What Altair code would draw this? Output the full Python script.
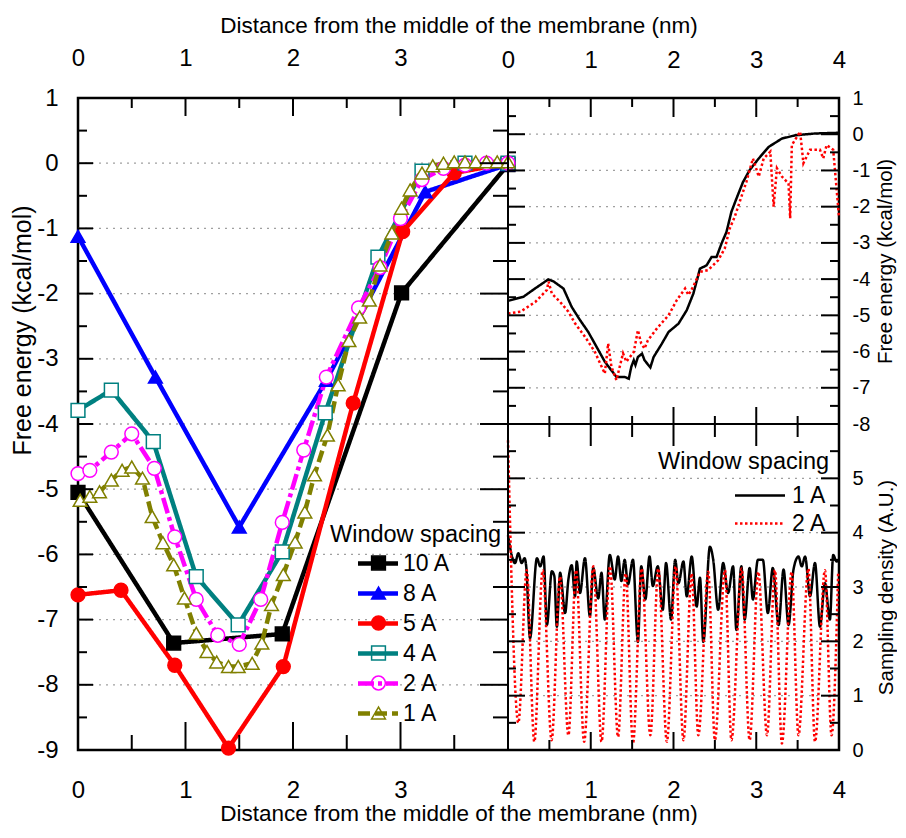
import altair as alt
import pandas as pd

FONT = "Liberation Sans"

# ---------------- data: left panel (free energy vs window spacing) ----------------
SERIES = ["10 A", "8 A", "5 A", "4 A", "2 A", "1 A"]
COLORS = ["#000000", "#0000ff", "#ff0000", "#008080", "#ff00ff", "#808000"]
FILLS = ["#000000", "#0000ff", "#ff0000", "#ffffff", "#ffffff", "#ffffff"]
SHAPES = ["square", "triangle-up", "circle", "square", "circle", "triangle-up"]
DASHES = [[1, 0], [1, 0], [1, 0], [1, 0], [16, 4, 4, 4], [12, 5]]

x_10A = [0.0, 0.89, 1.90, 3.01, 4.0]
y_10A = [-5.05, -7.36, -7.22, -1.99, -0.02]

x_8A = [0.0, 0.72, 1.50, 2.31, 3.23, 4.0]
y_8A = [-1.12, -3.28, -5.58, -3.33, -0.44, -0.02]

x_5A = [0.0, 0.40, 0.90, 1.40, 1.91, 2.56, 3.02, 3.50, 4.0]
y_5A = [-6.62, -6.55, -7.70, -8.97, -7.72, -3.68, -1.05, -0.15, 0.0]

x_4A = [0.0, 0.31, 0.70, 1.10, 1.49, 1.90, 2.30, 2.79, 3.20, 3.60, 4.0]
y_4A = [-3.79, -3.48, -4.27, -6.34, -7.08, -5.96, -3.83, -1.44, -0.12, 0.0, 0.0]

x_2A = [0.0, 0.11, 0.31, 0.50, 0.71, 0.90, 1.10, 1.30, 1.50, 1.70, 1.90, 2.10,
        2.31, 2.61, 2.81, 3.00, 3.20, 3.40, 3.60, 3.80, 4.0]
y_2A = [-4.76, -4.71, -4.43, -4.15, -4.68, -5.73, -6.69, -7.24, -7.38, -6.69, -5.51, -4.40,
        -3.28, -2.22, -1.60, -0.85, -0.25, -0.08, -0.03, 0.0, 0.0]

x_1A = [0.02, 0.11, 0.20, 0.31, 0.41, 0.50, 0.60, 0.69, 0.79, 0.89, 0.99, 1.10, 1.20, 1.29,
        1.40, 1.49, 1.62, 1.71, 1.80, 1.91, 2.02, 2.11, 2.20, 2.32, 2.42, 2.52, 2.62, 2.71,
        2.81, 2.92, 3.01, 3.09, 3.20, 3.30, 3.40, 3.50, 3.60, 3.70, 3.80, 3.90, 4.0]
y_1A = [-5.17, -5.11, -5.04, -4.86, -4.71, -4.66, -4.83, -5.42, -5.82, -6.16, -6.67, -7.21,
        -7.49, -7.65, -7.72, -7.72, -7.67, -7.36, -6.77, -6.31, -5.81, -5.35, -4.78, -4.17,
        -3.40, -2.72, -2.36, -2.10, -1.56, -1.07, -0.69, -0.41, -0.15, -0.04, 0.0, 0.02,
        0.02, 0.02, 0.02, 0.02, 0.02]

LEFT_X = [x_10A, x_8A, x_5A, x_4A, x_2A, x_1A]
LEFT_Y = [y_10A, y_8A, y_5A, y_4A, y_2A, y_1A]

# ---------------- data: right panels (1 A vs 2 A spacing) ----------------
RIGHT_SERIES = ["1 A", "2 A"]
RIGHT_COLORS = ["#000000", "#ff0000"]
RIGHT_DASH = [[1, 0], [2.5, 2.5]]

fe1_x = [0.0, 0.185, 0.326, 0.486, 0.548, 0.67, 0.77, 0.87, 0.97, 1.07, 1.17, 1.31, 1.41,
         1.46, 1.49, 1.52, 1.54, 1.57, 1.62, 1.65, 1.72, 1.76, 1.86, 1.94, 2.06, 2.16, 2.24,
         2.32, 2.40, 2.46, 2.52, 2.58, 2.64, 2.70, 2.76, 2.84, 2.92, 3.03, 3.15, 3.31, 3.47,
         3.71, 4.0]
fe1_y = [-4.6, -4.49, -4.26, -4.01, -4.06, -4.26, -4.77, -5.13, -5.46, -5.87, -6.28, -6.70,
         -6.70, -6.75, -6.42, -6.24, -6.37, -6.15, -6.06, -6.24, -6.44, -6.15, -5.78, -5.46,
         -5.23, -4.86, -4.40, -3.71, -3.62, -3.39, -3.39, -3.02, -2.70, -2.14, -1.78, -1.32,
         -0.99, -0.67, -0.35, -0.12, -0.03, 0.02, 0.04]

fe2_x = [0.0, 0.15, 0.33, 0.47, 0.49, 0.53, 0.63, 0.73, 0.81, 0.93, 1.05, 1.17, 1.21, 1.25,
         1.31, 1.39, 1.43, 1.52, 1.57, 1.61, 1.65, 1.69, 1.80, 1.94, 2.04, 2.14, 2.18, 2.24,
         2.32, 2.42, 2.54, 2.62, 2.68, 2.74, 2.82, 2.88, 2.96, 3.03, 3.09, 3.17, 3.21, 3.25,
         3.31, 3.39, 3.41, 3.43, 3.53, 3.57, 3.65, 3.77, 3.81, 3.85, 3.93, 4.0]
fe2_y = [-4.95, -4.9, -4.63, -4.30, -4.07, -4.40, -4.63, -4.9, -5.22, -5.59, -6.01, -6.61,
         -5.78, -6.42, -6.79, -6.05, -6.28, -6.01, -5.41, -5.78, -5.92, -5.69, -5.36, -5.0,
         -4.58, -4.26, -4.44, -4.2, -3.80, -3.75, -3.48, -3.15, -2.6, -2.28, -1.73, -1.32,
         -0.67, -1.17, -0.67, -0.48, -2.0, -0.94, -1.17, -1.36, -2.32, -0.3, 0.07, -0.8,
         -0.43, -0.43, -0.67, -0.3, -0.43, -2.28]

dn1_x = [0.0, 0.085, 0.125, 0.165, 0.2, 0.22, 0.266, 0.35, 0.39, 0.43,
         0.47, 0.53, 0.56, 0.59, 0.63, 0.69, 0.73, 0.77, 0.81, 0.83,
         0.87, 0.93, 0.99, 1.03, 1.09, 1.13, 1.17, 1.23, 1.29, 1.33,
         1.37, 1.41, 1.45, 1.51, 1.57, 1.61, 1.66, 1.71, 1.75, 1.81,
         1.87, 1.91, 1.97, 2.02, 2.06, 2.12, 2.16, 2.22, 2.28, 2.32,
         2.36, 2.44, 2.48, 2.54, 2.6, 2.66, 2.72, 2.76, 2.82, 2.86,
         2.92, 2.96, 3.02, 3.08, 3.14, 3.2, 3.27, 3.33, 3.39, 3.45,
         3.51, 3.55, 3.59, 3.65, 3.71, 3.77, 3.83, 3.89, 3.93, 3.97, 4.0]
dn1_y = [3.95, 3.44, 3.62, 3.44, 3.53, 3.38, 2.06, 3.53, 3.38, 3.56,
         2.30, 3.29, 3.20, 2.27, 3.26, 2.52, 3.14, 3.40, 2.83, 3.47,
         2.89, 3.53, 2.46, 3.35, 2.79, 3.26, 2.40, 3.59, 3.14, 3.56,
         3.11, 3.50, 3.05, 3.50, 1.99, 3.38, 2.77, 3.56, 3.02, 3.38,
         2.58, 3.44, 2.40, 3.50, 3.07, 3.47, 2.83, 3.56, 2.64, 3.17,
         1.99, 3.74, 3.50, 2.58, 3.44, 2.89, 3.38, 2.21, 3.38, 2.40,
         3.35, 2.77, 3.50, 3.50, 2.52, 3.35, 2.30, 3.32, 2.30, 3.32,
         3.56, 3.38, 3.56, 2.83, 3.44, 2.27, 3.07, 2.40, 3.59, 3.47, 3.50]

dn2_start_x = [0.0]
dn2_start_y = [5.7]
dn2_trough_x = [0.125, 0.318, 0.527, 0.73, 0.92, 1.13, 1.33, 1.51, 1.72, 1.92,
                2.12, 2.30, 2.50, 2.70, 2.92, 3.13, 3.31, 3.51, 3.71, 3.91]
dn2_trough_y = [0.50, 0.15, 0.18, 0.27, 0.15, 0.15, 0.24, 0.12, 0.27, 0.15,
                0.18, 0.27, 0.18, 0.18, 0.18, 0.27, 0.12, 0.27, 0.15, 0.27]
dn2_peak_x = [0.226, 0.419, 0.628, 0.822, 1.031, 1.233, 1.422, 1.615, 1.816, 2.026,
              2.219, 2.42, 2.622, 2.824, 3.025, 3.226, 3.428, 3.63, 3.83, 3.99]
dn2_peak_y = [3.31, 3.31, 3.19, 3.31, 3.38, 3.38, 3.25, 3.34, 3.34, 3.38,
              3.25, 3.28, 3.31, 3.34, 3.28, 3.31, 3.28, 3.34, 3.31, 3.28]

# ---------------- ticks / labels ----------------
X_MAJOR = [1, 2, 3]
X_MINOR = [0.5, 1.5, 2.5, 3.5]
L_TOP_LABELS = [0, 1, 2, 3]
L_BOT_LABELS = [0, 1, 2, 3, 4]
R_TOP_LABELS = [0, 1, 2, 3, 4]
R_BOT_LABELS = [1, 2, 3, 4]
L_Y_LABELS = [-9, -8, -7, -6, -5, -4, -3, -2, -1, 0, 1]
L_Y_MAJOR = [-8, -7, -6, -5, -4, -3, -2, -1, 0]
L_Y_MINOR = [-8.5, -7.5, -6.5, -5.5, -4.5, -3.5, -2.5, -1.5, -0.5, 0.5]
RT_Y_LABELS = [-8, -7, -6, -5, -4, -3, -2, -1, 0, 1]
RT_Y_MAJOR = [-7, -6, -5, -4, -3, -2, -1, 0]
RT_Y_MINOR = [-7.5, -6.5, -5.5, -4.5, -3.5, -2.5, -1.5, -0.5, 0.5]
RB_Y_LABELS = [0, 1, 2, 3, 4, 5]
RB_Y_MAJOR = [1, 2, 3, 4, 5]
RB_Y_MINOR = [0.5, 1.5, 2.5, 3.5, 4.5, 5.5]
L_GRID = [-8, -7, -6, -5, -4, -3, -2, -1, 0]
RT_GRID = [-7, -6, -5, -4, -3, -2, -1, 0]
RB_GRID = [1, 2, 3, 4, 5]

X_TITLE = "Distance from the middle of the membrane (nm)"
Y_TITLE_FE = "Free energy (kcal/mol)"
Y_TITLE_SD = "Sampling density (A.U.)"
LEGEND_TITLE = "Window spacing"

# ---------------- layout ----------------
W_L, W_R, H, H_T = 430, 331, 652, 326
W = W_L + W_R
HYPHEN = "replace(datum.label, '\u2212', '-')"


def sc(domain, rng):
    return alt.Scale(domain=domain, range=rng, nice=False, zero=False)


XL = sc([0, 4], [0, W_L])
YL = sc([-9, 1], [H, 0])
XR = sc([0, 4], [W_L, W])
YRT = sc([-8, 1], [H_T, 0])
YRB = sc([0, 6], [H, H_T])

# ---------------- tables ----------------
left_df = pd.concat([
    pd.DataFrame({"x": xs, "y": ys, "series": s})
    for s, xs, ys in zip(SERIES, LEFT_X, LEFT_Y)
], ignore_index=True)

rt_df = pd.concat([
    pd.DataFrame({"x": fe1_x, "y": fe1_y, "w": "1 A"}),
    pd.DataFrame({"x": fe2_x, "y": fe2_y, "w": "2 A"}),
], ignore_index=True)

dn2 = pd.DataFrame({"x": dn2_start_x + dn2_trough_x + dn2_peak_x,
                    "y": dn2_start_y + dn2_trough_y + dn2_peak_y}).sort_values("x")
dn2["w"] = "2 A"
rb_df = pd.concat([pd.DataFrame({"x": dn1_x, "y": dn1_y, "w": "1 A"}), dn2], ignore_index=True)


def ax(**kw):
    base = dict(grid=False, ticks=False, tickSize=0, domain=False, labelFlush=False,
                labelOverlap=False, labelFont=FONT, titleFont=FONT, labelColor="black",
                titleColor="black", titleFontWeight="normal", labelExpr=HYPHEN)
    base.update(kw)
    return alt.Axis(**base)


# ---------------- guide helpers ----------------
def xticks(values, xs, y0, y1):
    return alt.Chart(pd.DataFrame({"v": values})).mark_rule(color="black", strokeWidth=2).encode(
        x=alt.X("v:Q", scale=xs, axis=None), y=alt.value(y0), y2=alt.value(y1))


def yticks(values, ys, x0, x1):
    return alt.Chart(pd.DataFrame({"v": values})).mark_rule(color="black", strokeWidth=2).encode(
        y=alt.Y("v:Q", scale=ys, axis=None), x=alt.value(x0), x2=alt.value(x1))


def grid(values, xs, ys):
    df = pd.DataFrame({"g": values, "a": 0, "b": 4})
    return alt.Chart(df).mark_rule(color="#a0a0a0", strokeDash=[2, 5], strokeWidth=1.3).encode(
        x=alt.X("a:Q", scale=xs, axis=None), x2="b:Q", y=alt.Y("g:Q", scale=ys, axis=None))


layers = [grid(L_GRID, XL, YL), grid(RT_GRID, XR, YRT), grid(RB_GRID, XR, YRB)]

# ---------------- left panel ----------------
legend_text = dict(padding=0, labelFont=FONT, titleFont=FONT, labelFontSize=23,
                   titleFontSize=23.5, titleFontWeight="normal", labelColor="black",
                   titleColor="black", clipHeight=24, rowPadding=6, orient="none")
legend_lines = alt.Legend(title=LEGEND_TITLE, legendX=252, legendY=425, titlePadding=5,
                          symbolType="stroke", symbolSize=1600, symbolStrokeWidth=4.5,
                          symbolOffset=25.5, labelOffset=2.5, **legend_text)
legend_marks = alt.Legend(title=None, legendX=252, legendY=453, symbolSize=190,
                          symbolStrokeWidth=1.5, symbolOffset=37, labelOffset=2,
                          labelExpr="''", **legend_text)

left_lines = alt.Chart(left_df).mark_line(strokeWidth=4.5).encode(
    x=alt.X("x:Q", scale=XL, axis=ax(orient="top", values=L_TOP_LABELS, labelFontSize=24,
                                     labelPadding=28, title=None)),
    y=alt.Y("y:Q", scale=YL, axis=ax(orient="left", values=L_Y_LABELS, labelFontSize=24,
                                     labelPadding=20, title=Y_TITLE_FE, titleFontSize=25,
                                     titlePadding=1, titleY=232)),
    color=alt.Color("series:N", scale=alt.Scale(domain=SERIES, range=COLORS), legend=legend_lines),
    strokeDash=alt.StrokeDash("series:N", scale=alt.Scale(domain=SERIES, range=DASHES), legend=None),
)

left_points = alt.Chart(left_df).mark_point(opacity=1, size=190, strokeWidth=1.5).encode(
    x=alt.X("x:Q", scale=XL, axis=ax(orient="bottom", values=L_BOT_LABELS, labelFontSize=24,
                                     labelPadding=28, title=None)),
    y=alt.Y("y:Q", scale=YL, axis=None),
    stroke=alt.Stroke("series:N", scale=alt.Scale(domain=SERIES, range=COLORS), legend=legend_marks),
    fill=alt.Fill("series:N", scale=alt.Scale(domain=SERIES, range=FILLS), legend=legend_marks),
    shape=alt.Shape("series:N", scale=alt.Scale(domain=SERIES, range=SHAPES), legend=legend_marks),
)
layers += [left_lines, left_points]

# ---------------- right top panel ----------------
rt_lines = alt.Chart(rt_df).mark_line(strokeWidth=2.5).encode(
    x=alt.X("x:Q", scale=XR, axis=ax(orient="top", values=R_TOP_LABELS, labelFontSize=24,
                                     labelPadding=26, title=None)),
    y=alt.Y("y:Q", scale=YRT, axis=ax(orient="right", values=RT_Y_LABELS, labelFontSize=20,
                                      labelPadding=13, title=Y_TITLE_FE, titleFontSize=20.5,
                                      titlePadding=6, titleAngle=270, titleBaseline="top")),
    color=alt.Color("w:N", scale=alt.Scale(domain=RIGHT_SERIES, range=RIGHT_COLORS), legend=None),
    strokeDash=alt.StrokeDash("w:N", scale=alt.Scale(domain=RIGHT_SERIES, range=RIGHT_DASH), legend=None),
)

# ---------------- right bottom panel ----------------
legend_rb = alt.Legend(title=LEGEND_TITLE, legendX=580, legendY=352, titlePadding=10,
                       symbolType="stroke", symbolSize=2500, symbolStrokeWidth=2.5,
                       symbolOffset=75.5, labelOffset=5.5, padding=0, labelFont=FONT,
                       titleFont=FONT, labelFontSize=23, titleFontSize=23.5,
                       titleFontWeight="normal", labelColor="black", titleColor="black",
                       clipHeight=24, rowPadding=4, orient="none")
rb_lines = alt.Chart(rb_df).mark_line(strokeWidth=2.5, interpolate="monotone").encode(
    x=alt.X("x:Q", scale=XR, axis=ax(orient="bottom", values=R_BOT_LABELS, labelFontSize=24,
                                     labelPadding=28, title=None)),
    y=alt.Y("y:Q", scale=YRB, axis=ax(orient="right", values=RB_Y_LABELS, labelFontSize=20,
                                      labelPadding=13, title=Y_TITLE_SD, titleFontSize=20.5,
                                      titlePadding=13, titleAngle=270, titleBaseline="top")),
    color=alt.Color("w:N", scale=alt.Scale(domain=RIGHT_SERIES, range=RIGHT_COLORS), legend=legend_rb),
    strokeDash=alt.StrokeDash("w:N", scale=alt.Scale(domain=RIGHT_SERIES, range=RIGHT_DASH), legend=legend_rb),
)
layers += [rt_lines, rb_lines]

# ---------------- inward tick marks ----------------
layers += [
    # left panel
    xticks(X_MAJOR, XL, 0, 18), xticks(X_MINOR, XL, 0, 10),
    xticks(X_MAJOR, XL, H, H - 28), xticks(X_MINOR, XL, H, H - 15),
    yticks(L_Y_MAJOR, YL, 0, 15), yticks(L_Y_MINOR, YL, 0, 9),
    yticks(L_Y_MAJOR, YL, W_L, W_L - 28), yticks(L_Y_MINOR, YL, W_L, W_L - 15),
    # right top panel
    xticks(X_MAJOR, XR, 0, 19), xticks(X_MINOR, XR, 0, 9),
    xticks(X_MAJOR, XR, H_T, H_T - 17), xticks(X_MINOR, XR, H_T, H_T - 8),
    yticks(RT_Y_MAJOR, YRT, W_L, W_L + 17), yticks(RT_Y_MINOR, YRT, W_L, W_L + 8),
    yticks(RT_Y_MAJOR, YRT, W, W - 18), yticks(RT_Y_MINOR, YRT, W, W - 9),
    # right bottom panel
    xticks(X_MAJOR, XR, H_T, H_T + 22), xticks(X_MINOR, XR, H_T, H_T + 13),
    xticks(X_MAJOR, XR, H, H - 18), xticks(X_MINOR, XR, H, H - 10),
    yticks(RB_Y_MAJOR, YRB, W_L, W_L + 17), yticks(RB_Y_MINOR, YRB, W_L, W_L + 8),
    yticks(RB_Y_MAJOR, YRB, W, W - 18), yticks(RB_Y_MINOR, YRB, W, W - 9),
]

# ---------------- inner frame lines ----------------
layers.append(alt.Chart(pd.DataFrame({"v": [4]})).mark_rule(color="black", strokeWidth=2).encode(
    x=alt.X("v:Q", scale=XL, axis=None)))
layers.append(alt.Chart(pd.DataFrame({"v": [-8], "a": [0], "b": [4]})).mark_rule(
    color="black", strokeWidth=2).encode(
    y=alt.Y("v:Q", scale=YRT, axis=None), x=alt.X("a:Q", scale=XR, axis=None), x2="b:Q"))

# ---------------- shared axis titles (top and bottom) ----------------
for orient, pad in (("top", 61), ("bottom", 52)):
    layers.append(alt.Chart(pd.DataFrame({"v": [0.5]})).mark_point(opacity=0).encode(
        x=alt.X("v:Q", scale=sc([0, 1], [0, W]),
                axis=ax(orient=orient, labels=False, title=X_TITLE, titleFontSize=22.5,
                        titlePadding=pad))))

chart = alt.layer(*layers).resolve_scale(
    x="independent", y="independent", color="independent", strokeDash="independent"
).properties(
    width=W, height=H, padding={"left": 2, "top": 6, "right": 0, "bottom": 0}
).configure_view(stroke="black", strokeWidth=2.5)

chart.save("out.html", embed_options={"renderer": "svg", "actions": False})
